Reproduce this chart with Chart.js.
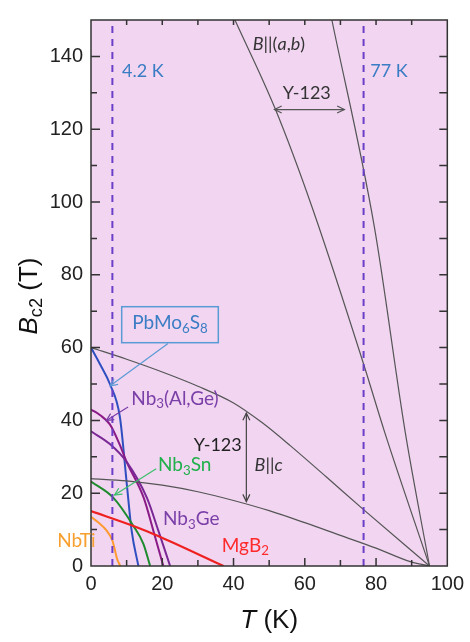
<!DOCTYPE html>
<html>
<head>
<meta charset="utf-8">
<script src="https://cdn.jsdelivr.net/npm/chart.js@4.4.0/dist/chart.umd.min.js"></script>
<style>
body { margin: 0; background: #fff; }
#wrap { width: 470px; height: 642px; }
</style>
</head>
<body>
<div id="wrap"><canvas id="myChart"></canvas></div>
<script>
// temperatures (K) and upper critical fields (T)
var yAb1T = [40.4, 51.7, 62, 76.5, 82.5, 95];
var yAb1B = [150, 125.6, 98.7, 55.5, 36.5, 0];
var yAb2T = [67.6, 79.5, 88.2, 95];
var yAb2B = [150, 93.3, 36.7, 0];
var yC1T = [0, 10, 20, 30, 40, 48, 56, 66, 76.5, 95];
var yC1B = [60, 56.8, 53.3, 49.4, 44.8, 39.4, 33, 24.5, 15.5, 0];
var yC2T = [0, 10, 20, 30, 40, 50, 60, 70, 80, 89.6, 95];
var yC2B = [24, 23.4, 22.2, 20.4, 18, 15.2, 11.9, 8.4, 4.9, 1.2, 0];
var pbT = [0, 2.5, 5.3, 8.1, 10, 11.4, 13.3];
var pbB = [60, 55.5, 50, 41, 23, 9.7, 0];
var alGeT = [0, 2.5, 5.3, 8, 10, 14.8, 17.5, 20.3];
var alGeB = [43, 41.5, 38.9, 33.5, 28.6, 18.7, 9.7, 0];
var geT = [0, 5.3, 10, 15.7, 18.9, 22.2];
var geB = [37, 33.5, 28.6, 18.7, 9.7, 0];
var snT = [0, 6.3, 11.9, 14.7, 16.6];
var snB = [23.2, 18.7, 11, 6.1, 0];
var tiT = [0, 2, 4.4, 6, 6.8, 7.3, 8.2];
var tiB = [13.5, 12, 9.7, 7, 4, 2, 0];
var mgT = [0, 11.9, 18.5, 37.2];
var mgB = [15.1, 11, 8.4, 0];
var markT = [6, 76.5]; // dashed lines labelled 4.2 K and 77 K

function pts(t, b) {
  return t.map(function (v, i) { return { x: v, y: b[i] }; });
}
function curve(t, b, col, w) {
  return { data: pts(t, b), borderColor: col, borderWidth: w, pointRadius: 0,
           cubicInterpolationMode: 'monotone', fill: false };
}
function vline(t) {
  return { data: [{ x: t, y: 0 }, { x: t, y: 150 }], borderColor: '#6b3fc8',
           borderWidth: 2, borderDash: [7, 6], pointRadius: 0, fill: false };
}

var lbl = 'Lato, "Open Sans", sans-serif';

function rich(c, parts, x, y, size, col, align) {
  var w = 0;
  parts.forEach(function (p) {
    c.font = (p.it ? 'italic ' : '') + (p.sub ? size * 0.7 : size) + 'px ' + (p.f || lbl);
    p.w = c.measureText(p.t).width; w += p.w;
  });
  var x0 = align === 'right' ? x - w : (align === 'center' ? x - w / 2 : x);
  c.fillStyle = col; c.textBaseline = 'middle'; c.textAlign = 'left';
  parts.forEach(function (p) {
    c.font = (p.it ? 'italic ' : '') + (p.sub ? size * 0.7 : size) + 'px ' + (p.f || lbl);
    c.fillText(p.t, x0, p.sub ? y + size * 0.28 : y);
    x0 += p.w;
  });
}
function arrow(c, x1, y1, x2, y2, col, both) {
  c.strokeStyle = col; c.lineWidth = 1.2;
  c.beginPath(); c.moveTo(x1, y1); c.lineTo(x2, y2); c.stroke();
  function head(xa, ya, xb, yb) {
    var a = Math.atan2(yb - ya, xb - xa), L = 8;
    c.beginPath();
    c.moveTo(xb - L * Math.cos(a - 0.45), yb - L * Math.sin(a - 0.45));
    c.lineTo(xb, yb);
    c.lineTo(xb - L * Math.cos(a + 0.45), yb - L * Math.sin(a + 0.45));
    c.stroke();
  }
  head(x1, y1, x2, y2);
  if (both) head(x2, y2, x1, y1);
}

var deco = {
  id: 'deco',
  beforeDatasetsDraw: function (chart) {
    var a = chart.chartArea, c = chart.ctx;
    c.save();
    c.fillStyle = '#f1d5f1';
    c.fillRect(a.left, a.top, a.right - a.left, a.bottom - a.top);
    c.restore();
  },
  afterDraw: function (chart) {
    var c = chart.ctx, a = chart.chartArea;
    var xs = chart.scales.x, ys = chart.scales.y;
    function X(v) { return xs.getPixelForValue(v); }
    function Y(v) { return ys.getPixelForValue(v); }
    c.save();
    // frame and inward ticks
    c.strokeStyle = '#333'; c.lineWidth = 1.5;
    c.strokeRect(a.left, a.top, a.right - a.left, a.bottom - a.top);
    for (var t = 10; t < 100; t += 10) {
      var L = t % 20 === 0 ? 8 : 6;
      c.beginPath();
      c.moveTo(X(t), a.bottom); c.lineTo(X(t), a.bottom - L);
      c.moveTo(X(t), a.top); c.lineTo(X(t), a.top + 5);
      c.stroke();
    }
    for (var b = 10; b <= 140; b += 10) {
      var M = b % 20 === 0 ? 9 : 6;
      c.beginPath();
      c.moveTo(a.left, Y(b)); c.lineTo(a.left + M, Y(b));
      c.moveTo(a.right, Y(b)); c.lineTo(a.right - 8, Y(b));
      c.stroke();
    }
    // axis titles
    var af = '"Liberation Sans", Arial, sans-serif';
    rich(c, [{ t: 'T', it: true, f: af }, { t: ' (K)', f: af }], (a.left + a.right) / 2, 621, 26, '#111', 'center');
    c.save();
    c.translate(30, 296); c.rotate(-Math.PI / 2);
    rich(c, [{ t: 'B', it: true, f: af }, { t: 'c2', sub: true, f: af }, { t: ' (T)', f: af }], 0, 0, 26, '#111', 'center');
    c.restore();

    // labels inside the plot
    rich(c, [{ t: '4.2 K' }], X(8.7), Y(136), 18, '#3b7dc4');
    rich(c, [{ t: '77 K' }], X(78.4), Y(136), 18, '#3b7dc4');
    rich(c, [{ t: 'B', it: true }, { t: '||(' }, { t: 'a', it: true }, { t: ',' }, { t: 'b', it: true }, { t: ')' }], X(45.4), Y(143.3), 18, '#333');
    rich(c, [{ t: 'Y-123' }], X(53.8), Y(130), 18, '#333');
    arrow(c, X(51.5), Y(125.4), X(71.1), Y(125.4), '#555', true);

    // PbMo6S8 box with pointer
    c.strokeStyle = '#5b9bd5'; c.lineWidth = 1.5;
    c.strokeRect(121.7, 306.7, 96.6, 36);
    rich(c, [{ t: 'PbMo' }, { t: '6', sub: true }, { t: 'S' }, { t: '8', sub: true }], 170, 323, 19, '#3b7dc4', 'center');
    arrow(c, 168, 343.5, X(5.4), Y(49.5), '#5b9bd5', false);

    rich(c, [{ t: 'Nb' }, { t: '3', sub: true }, { t: '(Al,Ge)' }], X(11.3), Y(46), 19, '#7b3fa8');
    arrow(c, X(10.4), Y(43.7), X(4.3), Y(40), '#7b3fa8', false);

    rich(c, [{ t: 'Y-123' }], X(42.3), Y(33.3), 18, '#222', 'right');
    arrow(c, X(43.6), Y(42), X(43.6), Y(17.7), '#444', true);
    rich(c, [{ t: 'B', it: true }, { t: '||' }, { t: 'c', it: true }], X(45.9), Y(27.7), 18, '#333');

    rich(c, [{ t: 'Nb' }, { t: '3', sub: true }, { t: 'Sn' }], X(18.8), Y(27.7), 19, '#21b04b');
    arrow(c, X(18.3), Y(26.7), X(6.6), Y(19.5), '#3cbf6a', false);
    rich(c, [{ t: 'Nb' }, { t: '3', sub: true }, { t: 'Ge' }], X(20.2), Y(12.9), 19, '#7b3fa8');
    rich(c, [{ t: 'NbTi' }], X(-9.5), Y(7), 19, '#f7a030');
    rich(c, [{ t: 'Mg' }, { t: 'B' }, { t: '2', sub: true }], X(36.7), Y(5.6), 19, '#ff2a2a');
    c.restore();
  }
};

var ctx = document.getElementById('myChart');
var myChart = new Chart(ctx, {
  type: 'line',
  data: {
    datasets: [
      vline(markT[0]), vline(markT[1]),
      curve(yAb1T, yAb1B, '#555', 1.2),
      curve(yAb2T, yAb2B, '#555', 1.2),
      curve(yC1T, yC1B, '#555', 1.2),
      curve(yC2T, yC2B, '#555', 1.2),
      curve(mgT, mgB, '#ee2020', 2.2),
      curve(tiT, tiB, '#ff9a30', 2),
      curve(snT, snB, '#1e8c2e', 2),
      curve(geT, geB, '#7a2896', 2),
      curve(alGeT, alGeB, '#8b1b86', 2),
      curve(pbT, pbB, '#2f4fc0', 2)
    ]
  },
  options: {
    responsive: true,
    maintainAspectRatio: false,
    animation: false,
    layout: { padding: { top: 8, right: 22, left: 0, bottom: 0 } },
    plugins: { legend: { display: false }, tooltip: { enabled: false } },
    scales: {
      x: {
        type: 'linear', min: 0, max: 100,
        grid: { display: false, drawTicks: false },
        border: { display: false },
        ticks: { stepSize: 20, padding: 6, color: '#222',
                 font: { size: 20, family: '"Liberation Sans", Arial, sans-serif' } },
        afterFit: function (s) { s.height = 76; }
      },
      y: {
        type: 'linear', min: 0, max: 150,
        grid: { display: false, drawTicks: false },
        border: { display: false },
        ticks: { stepSize: 20, includeBounds: false, padding: 8, color: '#222',
                 font: { size: 20, family: '"Liberation Sans", Arial, sans-serif' } },
        afterFit: function (s) { s.width = 91; }
      }
    }
  },
  plugins: [deco]
});
</script>
</body>
</html>
